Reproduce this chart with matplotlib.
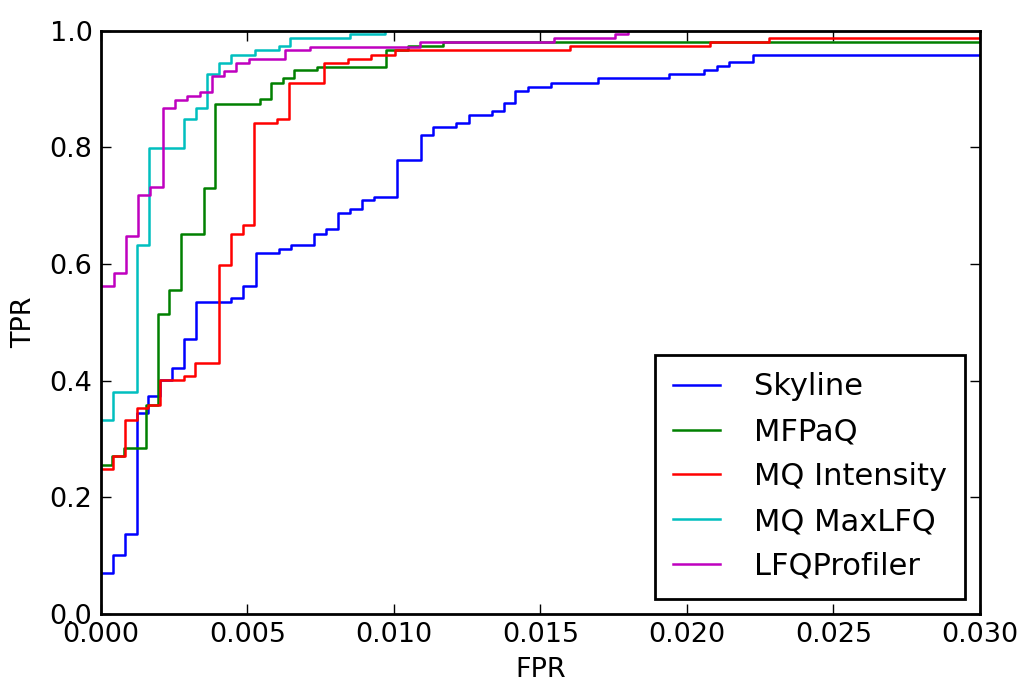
import matplotlib
matplotlib.use("Agg")
import matplotlib.pyplot as plt
from matplotlib.ticker import FormatStrFormatter

# ROC step points: (fpr where tpr jumps, tpr after the jump)
skyline_fpr = [0, 0.00043, 0.00083, 0.00122, 0.00162, 0.00202, 0.00244, 0.00285, 0.00325,
               0.00446, 0.00486, 0.00528, 0.00608, 0.00648, 0.00728, 0.0077, 0.0081, 0.0085,
               0.00891, 0.00932, 0.01011, 0.01094, 0.01134, 0.01213, 0.01255, 0.01335,
               0.01375, 0.01415, 0.01457, 0.01537, 0.01698, 0.0194, 0.0206, 0.02102,
               0.02143, 0.02224, 0.03]
skyline_tpr = [0.07, 0.101, 0.137, 0.345, 0.374, 0.401, 0.422, 0.471, 0.534,
               0.541, 0.563, 0.618, 0.626, 0.632, 0.652, 0.660, 0.688, 0.695,
               0.709, 0.715, 0.778, 0.821, 0.834, 0.841, 0.855, 0.862,
               0.876, 0.897, 0.904, 0.911, 0.918, 0.925, 0.932, 0.939,
               0.946, 0.959, 0.959]

mfpaq_fpr = [0, 0.00037, 0.0008, 0.00156, 0.00196, 0.00233, 0.00273, 0.00352, 0.00389,
             0.00545, 0.00582, 0.00622, 0.0066, 0.00738, 0.00972, 0.01048, 0.01167, 0.03]
mfpaq_tpr = [0.255, 0.270, 0.284, 0.358, 0.514, 0.555, 0.652, 0.730, 0.875,
             0.883, 0.911, 0.918, 0.932, 0.938, 0.966, 0.974, 0.980, 0.980]

mq_int_fpr = [0, 0.00043, 0.00083, 0.00122, 0.00162, 0.00202, 0.00284, 0.00321, 0.00403,
              0.00443, 0.00484, 0.00523, 0.00603, 0.00643, 0.00762, 0.00844, 0.00923,
              0.01003, 0.016, 0.02079, 0.02279, 0.03]
mq_int_tpr = [0.248, 0.270, 0.332, 0.353, 0.359, 0.401, 0.408, 0.430, 0.598,
              0.652, 0.667, 0.841, 0.848, 0.911, 0.945, 0.952, 0.959,
              0.966, 0.974, 0.981, 0.988, 0.988]

mq_lfq_fpr = [0, 0.00043, 0.00122, 0.00164, 0.00285, 0.00325, 0.00364, 0.00404, 0.00444,
              0.00527, 0.00608, 0.00647, 0.0085, 0.0097]
mq_lfq_tpr = [0.332, 0.381, 0.632, 0.799, 0.848, 0.868, 0.925, 0.945, 0.959,
              0.966, 0.974, 0.988, 0.995, 1.0]

lfqp_fpr = [0, 0.00045, 0.00086, 0.00128, 0.00168, 0.00212, 0.00253, 0.00295, 0.00337,
            0.00378, 0.00421, 0.00463, 0.00505, 0.00628, 0.00713, 0.01089, 0.01548,
            0.01756, 0.01798]
lfqp_tpr = [0.563, 0.584, 0.648, 0.718, 0.732, 0.867, 0.881, 0.888, 0.895,
            0.922, 0.930, 0.945, 0.952, 0.966, 0.972, 0.980, 0.988,
            0.994, 1.0]

series = [
    ("Skyline", skyline_fpr, skyline_tpr, (0, 0, 1)),
    ("MFPaQ", mfpaq_fpr, mfpaq_tpr, (0, 0.5, 0)),
    ("MQ Intensity", mq_int_fpr, mq_int_tpr, (1, 0, 0)),
    ("MQ MaxLFQ", mq_lfq_fpr, mq_lfq_tpr, (0, 0.75, 0.75)),
    ("LFQProfiler", lfqp_fpr, lfqp_tpr, (0.75, 0, 0.75)),
]

plt.rcParams["font.family"] = "DejaVu Sans"
plt.rcParams["font.size"] = 19.5

fig = plt.figure(figsize=(10.21, 6.86), dpi=100)
ax = fig.add_axes([0.0987, 0.105, 0.8611, 0.8504])

for name, x, y, c in series:
    ax.plot(x, y, drawstyle="steps-post", color=c, lw=1.8, label=name)

ax.set_xlim(0, 0.03)
ax.set_ylim(0, 1.0)
ax.set_xticks([0, 0.005, 0.01, 0.015, 0.02, 0.025, 0.03])
ax.set_yticks([0, 0.2, 0.4, 0.6, 0.8, 1.0])
ax.xaxis.set_major_formatter(FormatStrFormatter("%.3f"))
ax.yaxis.set_major_formatter(FormatStrFormatter("%.1f"))
ax.tick_params(direction="in", top=True, right=True, length=7, width=1, pad=6)
for s in ax.spines.values():
    s.set_linewidth(2.0)

ax.set_xlabel("FPR", fontsize=19.5, labelpad=6)
ax.set_ylabel("TPR", fontsize=19.5, labelpad=9)

leg = ax.legend(loc="lower right", fontsize=22, fancybox=False, framealpha=1,
                edgecolor="black", handlelength=1.55, handletextpad=1.1,
                labelspacing=0.52, borderpad=0.58, borderaxespad=0.5)
leg.get_frame().set_linewidth(2.0)

fig.savefig("out.png", dpi=100)
